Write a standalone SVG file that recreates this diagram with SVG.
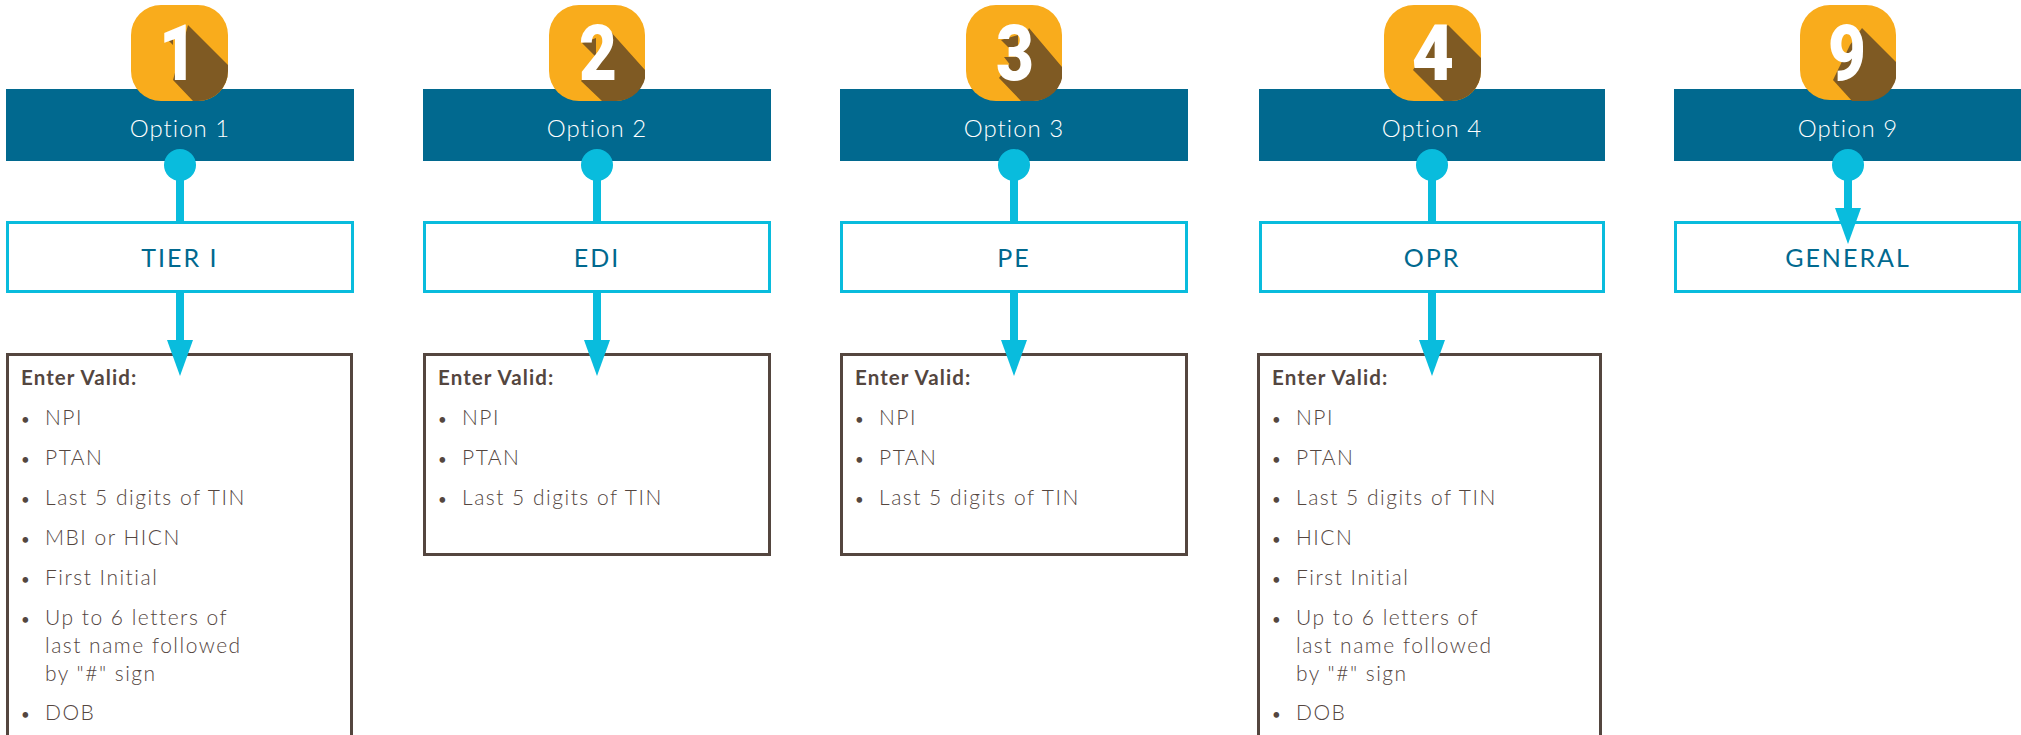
<svg xmlns="http://www.w3.org/2000/svg" width="2021" height="735" viewBox="0 0 2021 735">
<style>
.hdr{fill:#01698f}
.mid{fill:#fff;stroke:#09bcdd;stroke-width:3}
.det{fill:#fff;stroke:#54463f;stroke-width:3}
.ico{fill:#f9ac1c}
.shd{fill:#7f5a23}
.dig{font-family:Roboto,sans-serif;font-weight:900;font-size:77px;fill:#fff;text-anchor:middle}
.opt{font-family:Lato,sans-serif;font-weight:300;font-size:24px;letter-spacing:1px;fill:#fff;text-anchor:middle}
.lab{font-family:Lato,sans-serif;font-weight:400;font-size:25px;letter-spacing:2px;fill:#01698f;text-anchor:middle}
.ttl{font-family:Lato,sans-serif;font-weight:700;font-size:20.5px;letter-spacing:1.1px;fill:#54463f}
.itm{font-family:Lato,sans-serif;font-weight:300;font-size:21px;letter-spacing:1.5px;fill:#54463f}
.bul{font-family:Lato,sans-serif;font-size:15px;fill:#54463f}
.cl{fill:none;stroke:#09bcdd;stroke-width:8}
.dot{fill:#09bcdd}
</style>
<defs>
<clipPath id="ic"><rect width="97" height="96" rx="30"/></clipPath>
<marker id="ah" markerUnits="userSpaceOnUse" markerWidth="36" markerHeight="26" refX="0" refY="13" orient="auto" viewBox="0 0 36 26"><path d="M0 0L36 13L0 26Z" fill="#09bcdd"/></marker>
</defs>
<g id="opt1-header"><rect class="hdr" x="6" y="89" width="348" height="72"/><text class="opt" x="180" y="137">Option 1</text></g>
<g id="opt2-header"><rect class="hdr" x="423" y="89" width="348" height="72"/><text class="opt" x="597" y="137">Option 2</text></g>
<g id="opt3-header"><rect class="hdr" x="840" y="89" width="348" height="72"/><text class="opt" x="1014" y="137">Option 3</text></g>
<g id="opt4-header"><rect class="hdr" x="1259" y="89" width="346" height="72"/><text class="opt" x="1432" y="137">Option 4</text></g>
<g id="opt9-header"><rect class="hdr" x="1674" y="89" width="347" height="72"/><text class="opt" x="1848" y="137">Option 9</text></g>

<g id="tier1-box"><rect class="mid" x="7.5" y="222.5" width="345" height="69"/><text class="lab" x="180" y="267">TIER I</text></g>
<g id="edi-box"><rect class="mid" x="424.5" y="222.5" width="345" height="69"/><text class="lab" x="597" y="267">EDI</text></g>
<g id="pe-box"><rect class="mid" x="841.5" y="222.5" width="345" height="69"/><text class="lab" x="1014" y="267">PE</text></g>
<g id="opr-box"><rect class="mid" x="1260.5" y="222.5" width="343" height="69"/><text class="lab" x="1432" y="267">OPR</text></g>
<g id="general-box"><rect class="mid" x="1675.5" y="222.5" width="344" height="69"/><text class="lab" x="1848" y="267">GENERAL</text></g>

<g id="tier1-list"><rect class="det" x="7.5" y="354.5" width="344" height="390"/>
<text class="ttl" x="21" y="385">Enter Valid:</text>
<text class="bul" x="21" y="425">•</text><text class="itm" x="45" y="425">NPI</text>
<text class="bul" x="21" y="465">•</text><text class="itm" x="45" y="465">PTAN</text>
<text class="bul" x="21" y="505">•</text><text class="itm" x="45" y="505">Last 5 digits of TIN</text>
<text class="bul" x="21" y="545">•</text><text class="itm" x="45" y="545">MBI or HICN</text>
<text class="bul" x="21" y="585">•</text><text class="itm" x="45" y="585">First Initial</text>
<text class="bul" x="21" y="625">•</text><text class="itm" x="45" y="625">Up to 6 letters of</text>
<text class="itm" x="45" y="653">last name followed</text>
<text class="itm" x="45" y="681">by "#" sign</text>
<text class="bul" x="21" y="720">•</text><text class="itm" x="45" y="720">DOB</text></g>
<g id="edi-list"><rect class="det" x="424.5" y="354.5" width="345" height="200"/>
<text class="ttl" x="438" y="385">Enter Valid:</text>
<text class="bul" x="438" y="425">•</text><text class="itm" x="462" y="425">NPI</text>
<text class="bul" x="438" y="465">•</text><text class="itm" x="462" y="465">PTAN</text>
<text class="bul" x="438" y="505">•</text><text class="itm" x="462" y="505">Last 5 digits of TIN</text></g>
<g id="pe-list"><rect class="det" x="841.5" y="354.5" width="345" height="200"/>
<text class="ttl" x="855" y="385">Enter Valid:</text>
<text class="bul" x="855" y="425">•</text><text class="itm" x="879" y="425">NPI</text>
<text class="bul" x="855" y="465">•</text><text class="itm" x="879" y="465">PTAN</text>
<text class="bul" x="855" y="505">•</text><text class="itm" x="879" y="505">Last 5 digits of TIN</text></g>
<g id="opr-list"><rect class="det" x="1258.5" y="354.5" width="342" height="390"/>
<text class="ttl" x="1272" y="385">Enter Valid:</text>
<text class="bul" x="1272" y="425">•</text><text class="itm" x="1296" y="425">NPI</text>
<text class="bul" x="1272" y="465">•</text><text class="itm" x="1296" y="465">PTAN</text>
<text class="bul" x="1272" y="505">•</text><text class="itm" x="1296" y="505">Last 5 digits of TIN</text>
<text class="bul" x="1272" y="545">•</text><text class="itm" x="1296" y="545">HICN</text>
<text class="bul" x="1272" y="585">•</text><text class="itm" x="1296" y="585">First Initial</text>
<text class="bul" x="1272" y="625">•</text><text class="itm" x="1296" y="625">Up to 6 letters of</text>
<text class="itm" x="1296" y="653">last name followed</text>
<text class="itm" x="1296" y="681">by "#" sign</text>
<text class="bul" x="1272" y="720">•</text><text class="itm" x="1296" y="720">DOB</text></g>

<g id="icon1" transform="translate(131 5)"><rect class="ico" width="97" height="96" rx="30"/><g clip-path="url(#ic)"><path class="shd" d="M57 20L97 60V96H62L42 75ZM35 33L42 40V33Z"/></g><text class="dig" transform="translate(47 75) scale(.85 1)">1</text></g>
<g id="icon2" transform="translate(549 5)"><rect class="ico" width="96" height="96" rx="30"/><g clip-path="url(#ic)"><path class="shd" d="M62 27L96 65V96H53L32 76L55 45ZM33 38L47 33V52Z"/></g><text class="dig" transform="translate(49 75) scale(.85 1)">2</text></g>
<g id="icon3" transform="translate(966 5)"><rect class="ico" width="96" height="96" rx="30"/><g clip-path="url(#ic)"><path class="shd" d="M63 23L96 62V96H55L33 73L50 50ZM35 35L52 30V70L38 52H52Z"/></g><text class="dig" transform="translate(49 75) scale(.85 1)">3</text></g>
<g id="icon4" transform="translate(1384 5)"><rect class="ico" width="97" height="96" rx="30"/><g clip-path="url(#ic)"><path class="shd" d="M64 20L97 53V96H60L29 65L50 30Z"/></g><text class="dig" transform="translate(49 75) scale(.95 1)">4</text></g>
<g id="icon9" transform="translate(1800 5)"><rect class="ico" width="96" height="95" rx="30"/><g clip-path="url(#ic)"><path class="shd" d="M62 23L96 57V96H52L33 75L50 40Z"/></g><text class="dig" transform="translate(47 75) scale(.85 1)">9</text></g>

<g id="connectors">
<circle class="dot" cx="180" cy="165" r="16"/><path class="cl" d="M180 165V222"/><path class="cl" d="M180 293V340" marker-end="url(#ah)"/>
<circle class="dot" cx="597" cy="165" r="16"/><path class="cl" d="M597 165V222"/><path class="cl" d="M597 293V340" marker-end="url(#ah)"/>
<circle class="dot" cx="1014" cy="165" r="16"/><path class="cl" d="M1014 165V222"/><path class="cl" d="M1014 293V340" marker-end="url(#ah)"/>
<circle class="dot" cx="1432" cy="165" r="16"/><path class="cl" d="M1432 165V222"/><path class="cl" d="M1432 293V340" marker-end="url(#ah)"/>
<circle class="dot" cx="1848" cy="165" r="16"/><path class="cl" d="M1848 165V208" marker-end="url(#ah)"/>
</g>
</svg>
